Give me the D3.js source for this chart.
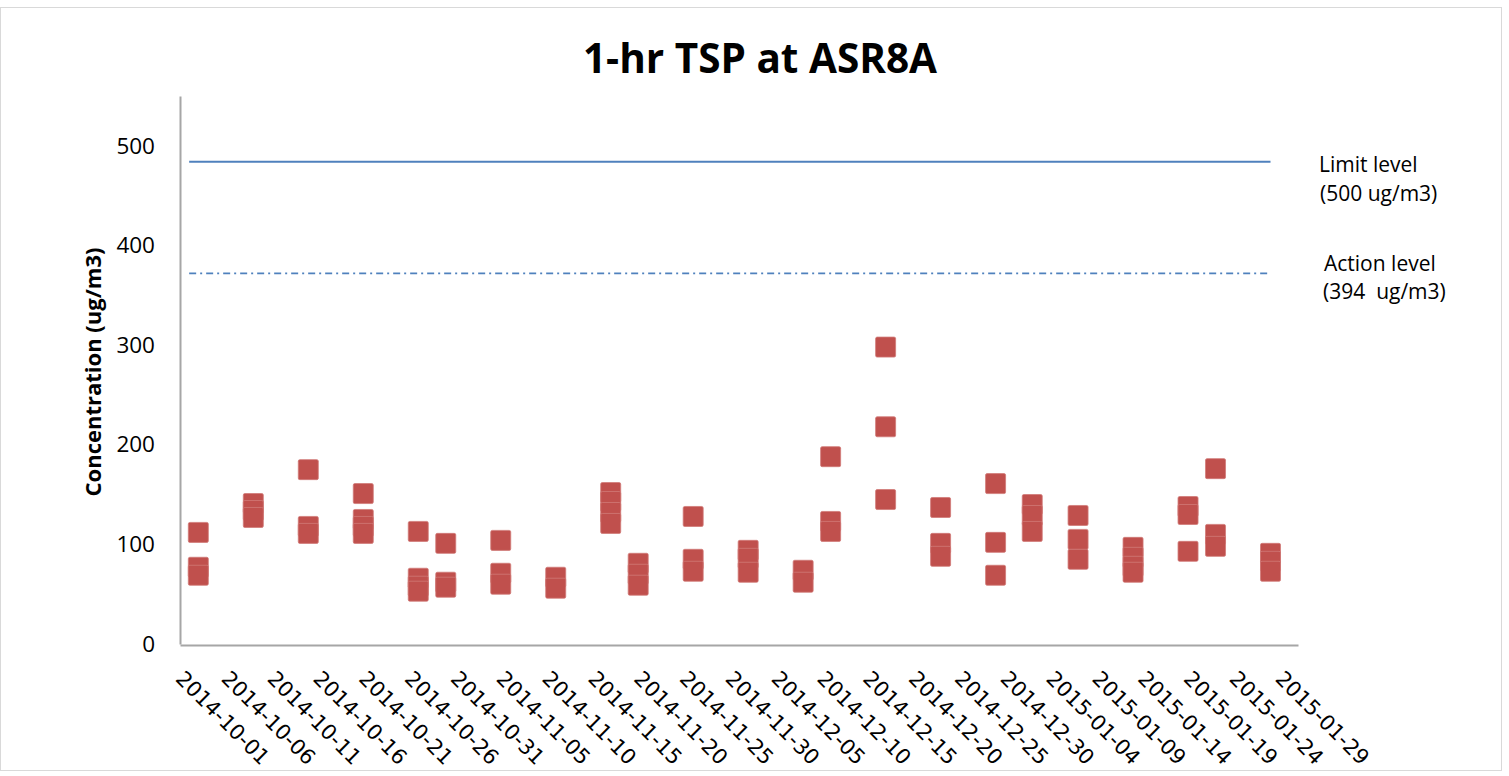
<!DOCTYPE html>
<html>
<head>
<meta charset="utf-8">
<title>1-hr TSP at ASR8A</title>
<script src="https://cdn.jsdelivr.net/npm/d3@7"></script>
<style>
  body { margin: 0; background: #fff; }
  svg { display: block; }
</style>
</head>
<body>
<script>
var w = 1509;
var h = 776;

// sampling days and the 1-hr readings taken on each day (ug/m3)
const sampleDates = ["2014-10-03", "2014-10-09", "2014-10-15", "2014-10-21", "2014-10-27",
  "2014-10-30", "2014-11-05", "2014-11-11", "2014-11-17", "2014-11-20", "2014-11-26",
  "2014-12-02", "2014-12-08", "2014-12-11", "2014-12-17", "2014-12-23", "2014-12-29",
  "2015-01-02", "2015-01-07", "2015-01-13", "2015-01-19", "2015-01-22", "2015-01-28"];
const tspValues = [
  [112, 77, 69], [141, 134, 127], [175, 118, 111], [151, 125, 118, 111], [113, 66, 58, 53],
  [101, 62, 57], [104, 71, 60], [67, 56], [152, 143, 132, 121], [81, 70, 59], [128, 85, 73],
  [94, 86, 72], [74, 62], [188, 123, 113], [298, 218, 145], [137, 101, 88], [161, 102, 69],
  [140, 129, 113], [129, 105, 85], [97, 87, 78, 72], [138, 130, 93], [176, 110, 98], [91, 83, 73]
];

// reference lines, drawn from the first to the last day
const levelDates = ["2014-10-02", "2015-01-28"];
const limitLevel = 484;
const actionLevel = 372;

const xTickLabels = ["2014-10-01", "2014-10-06", "2014-10-11", "2014-10-16", "2014-10-21",
  "2014-10-26", "2014-10-31", "2014-11-05", "2014-11-10", "2014-11-15", "2014-11-20",
  "2014-11-25", "2014-11-30", "2014-12-05", "2014-12-10", "2014-12-15", "2014-12-20",
  "2014-12-25", "2014-12-30", "2015-01-04", "2015-01-09", "2015-01-14", "2015-01-19",
  "2015-01-24", "2015-01-29"];
const yTicks = [0, 100, 200, 300, 400, 500];

var parse = d3.timeParse("%Y-%m-%d");

var x = d3.scaleTime()
          .domain([parse("2014-10-01"), parse("2015-01-31")])
          .range([180, 1298]);
var y = d3.scaleLinear()
          .domain([0, 550])
          .range([644, 96]);

var svg = d3.select("body")
            .append("svg")
            .attr("width", w)
            .attr("height", h);

// chart frame
svg.append("rect")
   .attr("x", 0.5).attr("y", 7.5)
   .attr("width", 1501).attr("height", 763)
   .attr("fill", "#fff")
   .attr("stroke", "#d9d9d9");

svg.append("text")
   .attr("x", 760)
   .attr("y", 73)
   .attr("text-anchor", "middle")
   .style("font-family", "'Open Sans', sans-serif")
   .style("font-weight", "bold")
   .style("font-size", "40.5px")
   .text("1-hr TSP at ASR8A");

// y axis
var yAxis = svg.append("g")
   .attr("transform", "translate(180,0)")
   .call(d3.axisLeft(y).tickValues(yTicks).tickSize(0).tickPadding(25));
yAxis.select(".domain").attr("stroke", "#a6a6a6").attr("stroke-width", 2);
yAxis.selectAll("text")
     .style("font-family", "'Open Sans', sans-serif")
     .style("font-size", "22.5px")
     .attr("fill", "#000");

// x axis
var xAxis = svg.append("g")
   .attr("transform", "translate(0,645)")
   .call(d3.axisBottom(x)
           .tickValues(xTickLabels.map(parse))
           .tickFormat(d3.timeFormat("%Y-%m-%d"))
           .tickSize(0));
xAxis.select(".domain").attr("stroke", "#a6a6a6").attr("stroke-width", 2);
xAxis.selectAll("text")
     .attr("y", 0).attr("dy", 0)
     .attr("x", 0)
     .attr("text-anchor", "start")
     .attr("transform", "translate(-6,35) rotate(45)")
     .style("font-family", "'DejaVu Sans', sans-serif")
     .style("font-size", "21px")
     .attr("fill", "#000");

svg.append("text")
   .attr("transform", "translate(101,372) rotate(-90)")
   .attr("text-anchor", "middle")
   .style("font-family", "'Open Sans', sans-serif")
   .style("font-weight", "bold")
   .style("font-size", "22px")
   .text("Concentration (ug/m3)");

// limit and action levels
var levelLine = d3.line()
    .x(function(d) { return x(parse(d)); });

svg.append("path")
   .attr("d", levelLine.y(function() { return y(limitLevel); })(levelDates))
   .attr("fill", "none")
   .attr("stroke", "#4f81bd")
   .attr("stroke-width", 2);

svg.append("path")
   .attr("d", levelLine.y(function() { return y(actionLevel); })(levelDates))
   .attr("fill", "none")
   .attr("stroke", "#4f81bd")
   .attr("stroke-width", 1.6)
   .attr("stroke-dasharray", "7,4,2,4");

// readings
var points = [];
sampleDates.forEach(function(d, i) {
  tspValues[i].forEach(function(v) {
    points.push({date: parse(d), value: v});
  });
});

var size = 20;
svg.append("g")
   .selectAll("rect")
   .data(points)
   .enter()
   .append("rect")
   .attr("x", function(d) { return x(d.date) - size / 2; })
   .attr("y", function(d) { return y(d.value) - size / 2; })
   .attr("width", size)
   .attr("height", size)
   .attr("rx", 1.5)
   .attr("fill", "#c0504d")
   .attr("stroke", "#d07a77")
   .attr("stroke-width", 0.8);

// level labels
var notes = [
  {x: 1319, y: 172, t: "Limit level"},
  {x: 1320, y: 201, t: "(500 ug/m3)"},
  {x: 1324, y: 271, t: "Action level"},
  {x: 1323, y: 299, t: "(394  ug/m3)"}
];
svg.append("g")
   .selectAll("text")
   .data(notes)
   .enter()
   .append("text")
   .attr("x", function(d) { return d.x; })
   .attr("y", function(d) { return d.y; })
   .style("font-family", "'Open Sans', sans-serif")
   .style("font-size", "21px")
   .style("white-space", "pre")
   .text(function(d) { return d.t; });
</script>
</body>
</html>
